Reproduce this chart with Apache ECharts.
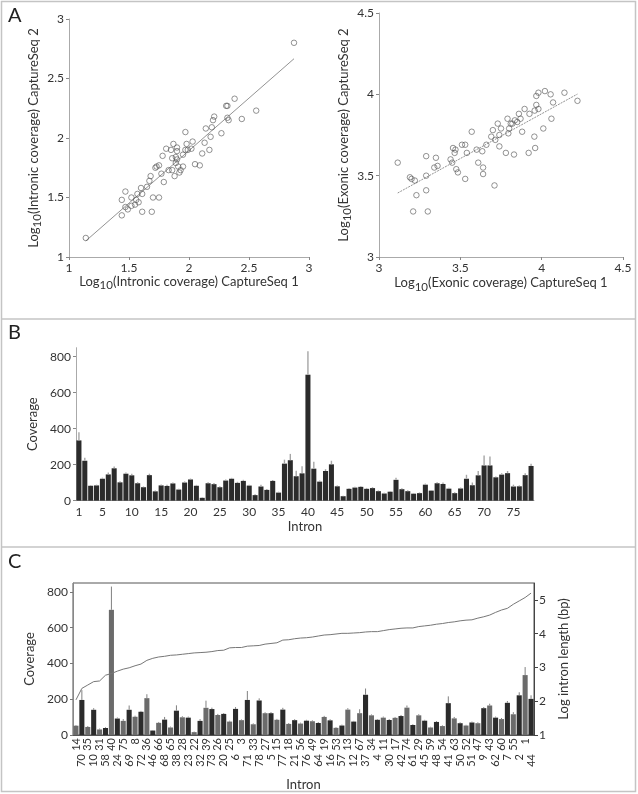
<!DOCTYPE html>
<html><head><meta charset="utf-8">
<script src="https://cdn.jsdelivr.net/npm/echarts@6/dist/echarts.min.js"></script>
<style>html,body{margin:0;padding:0;background:#fff}#c{width:638px;height:794px}</style>
</head><body><div id="c"></div>
<script>
// ---------- Panel A data ----------
const intronX = [1.14,2.875,1.44,1.44,1.47,1.47,1.52,1.49,1.52,1.55,1.56,1.57,1.58,1.60,1.61,1.61,1.69,1.70,1.75,1.68,1.67,1.72,1.73,1.75,1.77,1.79,1.78,1.81,1.83,1.85,1.86,1.87,1.86,1.88,1.89,1.89,1.90,1.90,1.90,1.91,1.92,1.93,1.95,1.95,1.97,1.97,1.98,1.99,2.03,2.02,2.05,2.09,2.11,2.13,2.14,2.17,2.18,2.19,2.20,2.21,2.27,2.31,2.32,2.32,2.33,2.38,2.44,2.56,1.65];
const intronY = [1.16,2.80,1.35,1.48,1.55,1.42,1.50,1.40,1.43,1.44,1.48,1.53,1.46,1.58,1.53,1.38,1.38,1.50,1.50,1.68,1.64,1.75,1.76,1.77,1.70,1.63,1.85,1.91,1.73,1.90,1.83,1.95,1.73,1.68,1.79,1.84,1.89,1.92,1.82,1.76,1.71,1.73,1.76,1.86,1.90,2.05,1.95,1.90,1.97,1.91,1.78,1.77,1.87,1.96,2.08,1.90,2.01,2.09,2.15,2.18,2.04,2.27,2.27,2.17,2.15,2.33,2.16,2.23,1.59];
const exonX = [3.115,3.19,3.20,3.22,3.21,3.23,3.29,3.29,3.29,3.30,3.34,3.35,3.36,3.44,3.45,3.455,3.47,3.465,3.475,3.485,3.51,3.53,3.54,3.53,3.57,3.60,3.61,3.635,3.64,3.64,3.66,3.69,3.70,3.71,3.715,3.73,3.74,3.74,3.75,3.78,3.79,3.795,3.80,3.81,3.82,3.83,3.835,3.85,3.86,3.87,3.88,3.895,3.92,3.925,3.955,3.957,3.96,3.967,3.967,3.98,3.98,4.01,4.02,4.055,4.06,4.07,4.14,4.22];
const exonY = [3.58,3.49,3.48,3.47,3.28,3.38,3.50,3.62,3.41,3.28,3.55,3.61,3.56,3.60,3.58,3.67,3.66,3.64,3.54,3.52,3.69,3.69,3.64,3.48,3.77,3.66,3.58,3.65,3.55,3.51,3.69,3.74,3.78,3.44,3.72,3.82,3.68,3.75,3.79,3.64,3.85,3.76,3.79,3.82,3.82,3.63,3.84,3.83,3.88,3.85,3.77,3.91,3.64,3.88,3.74,3.90,3.67,3.935,3.99,3.91,4.01,3.79,4.02,4.00,3.85,3.95,4.01,3.96];

// ---------- Panel B data ----------
const introns = [1,2,3,4,5,6,7,8,9,10,11,12,13,14,15,16,17,18,19,20,21,22,23,24,25,26,27,28,29,30,31,32,33,34,35,36,37,38,39,40,41,42,43,44,45,46,47,48,49,50,51,52,53,54,55,56,57,58,59,60,61,62,63,64,65,66,67,68,69,70,71,72,73,74,75,76,77,78];
const coverage = [335,222,83,85,122,146,180,102,150,141,97,75,142,52,85,82,96,62,101,118,83,16,97,92,75,112,122,99,110,84,31,79,60,110,45,206,225,136,152,700,178,106,165,202,80,25,66,73,77,66,70,53,40,50,116,64,53,39,42,89,56,97,93,67,42,68,122,86,141,196,196,130,145,153,79,80,142,193];
const coverageErr = [45,17,4,4,6,10,10,6,6,9,6,4,8,4,5,6,5,5,6,5,5,3,6,6,5,6,5,6,6,5,5,10,5,5,5,22,35,30,40,130,38,6,10,20,5,3,5,5,5,5,5,4,4,4,12,5,5,4,4,6,4,6,8,5,5,5,22,15,24,55,50,5,8,12,10,5,10,12];
const bTickLabels = [1,5,10,15,20,25,30,35,40,45,50,55,60,65,70,75];

// ---------- Panel C data ----------
const sortedOrder = [14,70,35,10,31,58,40,24,75,69,8,72,36,46,66,68,65,38,28,23,22,32,39,73,26,20,25,6,3,71,33,78,27,5,15,77,18,21,56,76,49,64,19,16,53,57,13,12,67,37,34,4,11,30,17,42,74,61,29,45,59,48,54,41,63,50,52,51,47,9,43,62,60,7,55,2,1,44];
const logLength = [2.04,2.38,2.48,2.58,2.60,2.77,2.82,2.89,2.95,2.99,3.05,3.10,3.21,3.27,3.31,3.33,3.36,3.37,3.39,3.41,3.43,3.44,3.45,3.47,3.50,3.51,3.58,3.59,3.59,3.63,3.64,3.65,3.69,3.71,3.73,3.81,3.82,3.85,3.87,3.88,3.90,3.93,3.96,3.97,3.99,4.01,4.01,4.02,4.03,4.05,4.06,4.06,4.09,4.12,4.14,4.16,4.17,4.17,4.21,4.23,4.25,4.28,4.30,4.33,4.35,4.38,4.40,4.41,4.46,4.50,4.55,4.63,4.70,4.75,4.87,4.97,5.07,5.20];

// ---------- helpers ----------
const FONT = 'Lato';
const TXT = '#333';
function fitLine(xs, ys) {
  const n = xs.length;
  const mx = xs.reduce((a, b) => a + b, 0) / n;
  const my = ys.reduce((a, b) => a + b, 0) / n;
  let sxy = 0, sxx = 0;
  for (let i = 0; i < n; i++) { sxy += (xs[i] - mx) * (ys[i] - my); sxx += (xs[i] - mx) ** 2; }
  const b = sxy / sxx, a = my - b * mx;
  const x0 = Math.min(...xs), x1 = Math.max(...xs);
  return [[x0, a + b * x0], [x1, a + b * x1]];
}
function errRender(color, width) {
  return function (params, api) {
    const x = api.value(0);
    const p1 = api.coord([x, api.value(1)]);
    const p2 = api.coord([x, api.value(2)]);
    return { type: 'line', shape: { x1: p1[0], y1: p1[1], x2: p2[0], y2: p2[1] }, style: { stroke: color, lineWidth: width } };
  };
}
const richName = {
  a: { fontFamily: FONT, fontSize: 13, color: TXT, lineHeight: 20 },
  s: { fontFamily: FONT, fontSize: 11.5, color: TXT, lineHeight: 10, verticalAlign: 'bottom' }
};
function valueAxis(grid, min, max, interval, name, nameGap, extra) {
  return Object.assign({
    type: 'value', gridIndex: grid, min: min, max: max, interval: interval,
    name: name, nameLocation: 'middle', nameGap: nameGap,
    nameTextStyle: { rich: richName },
    axisLine: { show: true, lineStyle: { color: '#aaa', width: 1 } },
    axisTick: { show: true, length: 3, lineStyle: { color: '#888' } },
    axisLabel: { fontFamily: FONT, fontSize: 12, color: TXT, margin: 5 },
    splitLine: { show: false }
  }, extra || {});
}

const bData = introns.map(String);
const cCats = sortedOrder.map(String);
const cValues = sortedOrder.map(k => coverage[k - 1]);
const cErr = sortedOrder.map((k, i) => [i, coverage[k - 1], coverage[k - 1] + coverageErr[k - 1]]);
const bErr = coverage.map((v, i) => [i, v, v + coverageErr[i]]);

const chart = echarts.init(document.getElementById('c'), null, { renderer: 'canvas' });
chart.setOption({
  animation: false,
  backgroundColor: '#fff',
  textStyle: { fontFamily: FONT },
  grid: [
    { left: 69, top: 19, width: 240, height: 238 },
    { left: 379, top: 13, width: 244, height: 244 },
    { left: 76, top: 347.7, width: 458, height: 153 },
    { left: 73, top: 583, width: 461, height: 152, show: true, borderColor: '#555', borderWidth: 1 },
    { left: 73, top: 583, width: 461, height: 152 }
  ],
  xAxis: [
    valueAxis(0, 1, 3, 0.5, '{a|Log}{s|10}{a|(Intronic coverage) CaptureSeq 1}', 13),
    valueAxis(1, 3, 4.5, 0.5, '{a|Log}{s|10}{a|(Exonic coverage) CaptureSeq 1}', 16),
    {
      type: 'category', gridIndex: 2, data: bData,
      name: 'Intron', nameLocation: 'middle', nameGap: 20,
      nameTextStyle: { fontFamily: FONT, fontSize: 13, color: TXT },
      axisLine: { lineStyle: { color: '#aaa' } },
      axisTick: { alignWithLabel: true, length: 3, interval: (i, v) => bTickLabels.includes(Number(v)), lineStyle: { color: '#888' } },
      axisLabel: { interval: (i, v) => bTickLabels.includes(Number(v)), fontFamily: FONT, fontSize: 12, color: TXT, margin: 5 }
    },
    {
      type: 'category', gridIndex: 3, data: cCats,
      name: 'Intron', nameLocation: 'middle', nameGap: 43,
      nameTextStyle: { fontFamily: FONT, fontSize: 13, color: TXT },
      axisLine: { lineStyle: { color: '#555' } },
      axisTick: { alignWithLabel: true, length: 3, interval: 0, lineStyle: { color: '#777' } },
      axisLabel: { interval: (i) => i % 2 === 0, rotate: 90, fontFamily: FONT, fontSize: 11, color: TXT, margin: 3 }
    },
    {
      type: 'category', gridIndex: 4, data: cCats,
      axisLine: { show: false }, axisTick: { show: false },
      axisLabel: { interval: (i) => i % 2 === 1, rotate: 90, fontFamily: FONT, fontSize: 11, color: TXT, margin: 19 }
    }
  ],
  yAxis: [
    valueAxis(0, 1, 3, 0.5, '{a|Log}{s|10}{a|(Intronic coverage) CaptureSeq 2}', 22, { nameRotate: 90 }),
    valueAxis(1, 3, 4.5, 0.5, '{a|Log}{s|10}{a|(Exonic coverage) CaptureSeq 2}', 20, { nameRotate: 90 }),
    {
      type: 'value', gridIndex: 2, min: 0, max: 850, interval: 200,
      name: 'Coverage', nameLocation: 'middle', nameGap: 31, nameRotate: 90,
      nameTextStyle: { fontFamily: FONT, fontSize: 13, color: TXT },
      axisLine: { show: true, lineStyle: { color: '#aaa' } },
      axisTick: { show: true, length: 3, customValues: [0, 200, 400, 600, 800], lineStyle: { color: '#888' } },
      axisLabel: { customValues: [0, 200, 400, 600, 800], fontFamily: FONT, fontSize: 12, color: TXT, margin: 5 },
      splitLine: { show: false }
    },
    {
      type: 'value', gridIndex: 3, min: 0, max: 850, interval: 200,
      name: 'Coverage', nameLocation: 'middle', nameGap: 30, nameRotate: 90,
      nameTextStyle: { fontFamily: FONT, fontSize: 13, color: TXT },
      axisLine: { show: true, lineStyle: { color: '#888' } },
      axisTick: { show: true, length: 3, customValues: [0, 200, 400, 600, 800], lineStyle: { color: '#777' } },
      axisLabel: { customValues: [0, 200, 400, 600, 800], fontFamily: FONT, fontSize: 12, color: TXT, margin: 5 },
      splitLine: { show: false }
    },
    {
      type: 'value', gridIndex: 3, position: 'right', min: 1, max: 5.5, interval: 1,
      name: 'Log intron length (bp)', nameLocation: 'middle', nameGap: 20, nameRotate: 90,
      nameTextStyle: { fontFamily: FONT, fontSize: 13, color: TXT },
      axisLine: { show: true, lineStyle: { color: '#444' } },
      axisTick: { show: true, length: 4, customValues: [1, 2, 3, 4, 5], lineStyle: { color: '#444' } },
      axisLabel: { customValues: [1, 2, 3, 4, 5], fontFamily: FONT, fontSize: 12, color: TXT, margin: 5 },
      splitLine: { show: false }
    },
    { type: 'value', gridIndex: 4, show: false }
  ],
  series: [
    {
      type: 'scatter', xAxisIndex: 0, yAxisIndex: 0, symbol: 'circle', symbolSize: 5.5,
      data: intronX.map((x, i) => [x, intronY[i]]),
      itemStyle: { color: 'rgba(255,255,255,0)', borderColor: '#555', borderWidth: 0.8 }, z: 3
    },
    {
      type: 'line', xAxisIndex: 0, yAxisIndex: 0, data: fitLine(intronX, intronY), symbol: 'none',
      lineStyle: { color: '#777', width: 0.8 }, silent: true, z: 2
    },
    {
      type: 'scatter', xAxisIndex: 1, yAxisIndex: 1, symbol: 'circle', symbolSize: 5.5,
      data: exonX.map((x, i) => [x, exonY[i]]),
      itemStyle: { color: 'rgba(255,255,255,0)', borderColor: '#555', borderWidth: 0.8 }, z: 3
    },
    {
      type: 'line', xAxisIndex: 1, yAxisIndex: 1, data: fitLine(exonX, exonY), symbol: 'none',
      lineStyle: { color: '#777', width: 0.8, type: [2, 1] }, silent: true, z: 2
    },
    {
      type: 'bar', xAxisIndex: 2, yAxisIndex: 2, data: coverage, barCategoryGap: '14%',
      itemStyle: { color: '#2b2b2b' }
    },
    {
      type: 'custom', xAxisIndex: 2, yAxisIndex: 2, data: bErr, encode: { x: 0, y: [1, 2] },
      renderItem: errRender('#a5a5a5', 1.4), z: 4
    },
    {
      type: 'bar', xAxisIndex: 3, yAxisIndex: 3, data: cValues, barCategoryGap: '14%',
      itemStyle: { color: (p) => (p.dataIndex % 2 === 0 ? '#6b6b6b' : '#2b2b2b') }
    },
    {
      type: 'custom', xAxisIndex: 3, yAxisIndex: 3, data: cErr, encode: { x: 0, y: [1, 2] },
      renderItem: errRender('#808080', 1), z: 4
    },
    {
      type: 'line', xAxisIndex: 3, yAxisIndex: 4, data: logLength, symbol: 'none',
      lineStyle: { color: '#777', width: 1 }, z: 5
    }
  ],
  graphic: [
    { type: 'rect', shape: { x: 1.5, y: 1.5, width: 634, height: 790 }, style: { fill: 'none', stroke: '#c4c4c4', lineWidth: 1.5 }, silent: true },
    { type: 'line', shape: { x1: 1, y1: 319, x2: 636, y2: 319 }, style: { stroke: '#c4c4c4', lineWidth: 1.5 }, silent: true },
    { type: 'line', shape: { x1: 1, y1: 547, x2: 636, y2: 547 }, style: { stroke: '#c4c4c4', lineWidth: 1.5 }, silent: true },
    { type: 'text', left: 8, top: 6, style: { text: 'A', fontFamily: FONT, fontSize: 20, fill: '#222' } },
    { type: 'text', left: 8, top: 323, style: { text: 'B', fontFamily: FONT, fontSize: 20, fill: '#222' } },
    { type: 'text', left: 8, top: 552, style: { text: 'C', fontFamily: FONT, fontSize: 20, fill: '#222' } }
  ]
});
</script></body></html>
